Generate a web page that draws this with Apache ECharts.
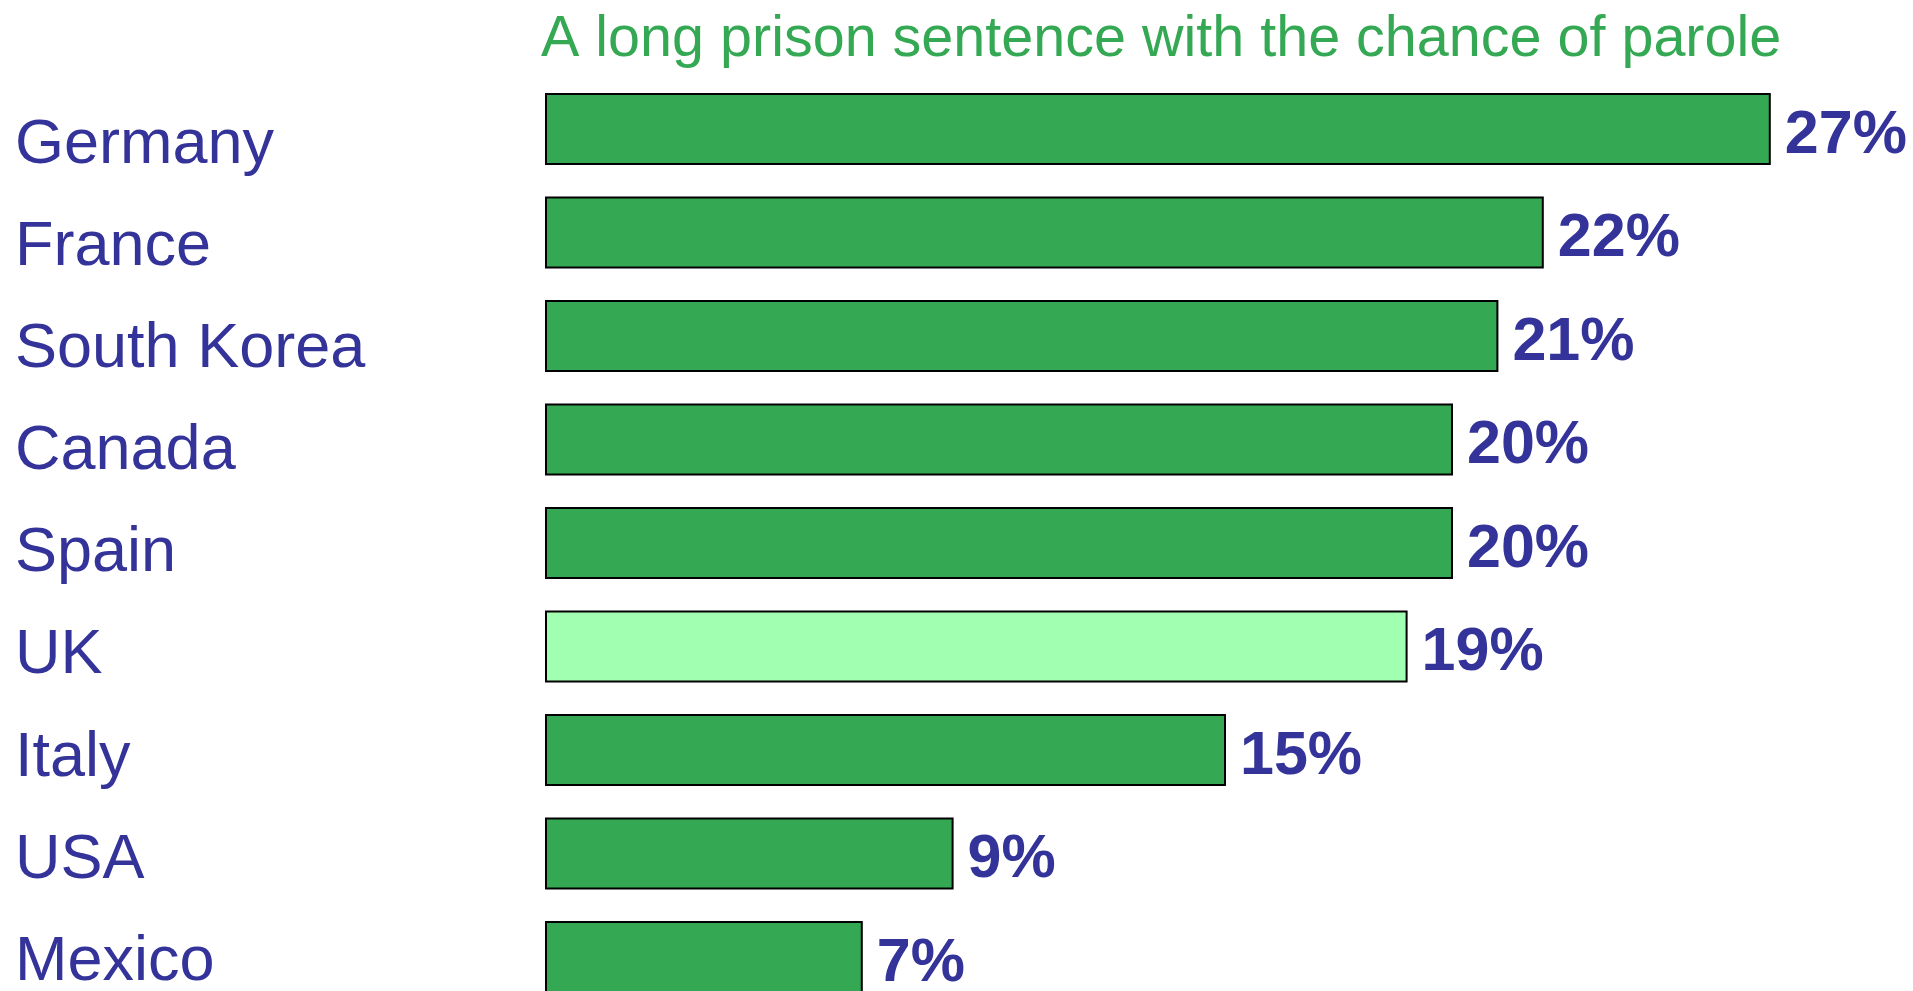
<!DOCTYPE html>
<html>
<head>
<meta charset="utf-8">
<script src="https://cdn.jsdelivr.net/npm/echarts@6/dist/echarts.min.js"></script>
<style>html,body{margin:0;padding:0;background:#fff;overflow:hidden;}#c{width:1913px;height:1040px;}</style>
</head>
<body>
<div id="c"></div>
<script>
const titleText = "A long prison sentence with the chance of parole";
const countries = ["Germany","France","South Korea","Canada","Spain","UK","Italy","USA","Mexico"];
const values = [27,22,21,20,20,19,15,9,7];
const highlighted = ["UK"];

const GREEN = "#34A853", LIGHT = "#A0FFB0", NAVY = "#333399";
const FONT = "'Liberation Sans', Arial, sans-serif";

const chart = echarts.init(document.getElementById('c'), null, {renderer:'canvas'});
chart.setOption({
  backgroundColor: '#fff',
  animation: false,
  title: {
    text: titleText, left: 536, top: 6,
    textStyle: {color: GREEN, fontSize: 57.5, fontWeight: 'normal', fontFamily: FONT}
  },
  grid: [
    {left: 545, right: 6, top: 77.25, height: 931.5},
    {left: 15, width: 500, top: 94.3, height: 919.3}
  ],
  xAxis: [
    {gridIndex: 0, type: 'value', min: 0, max: 30, show: false},
    {gridIndex: 1, type: 'value', min: 0, max: 1, show: false}
  ],
  yAxis: [
    {gridIndex: 0, type: 'category', data: countries, inverse: true, show: false},
    {gridIndex: 1, type: 'category', data: countries, inverse: true,
     axisLine: {show: false}, axisTick: {show: false}, splitLine: {show: false},
     axisLabel: {inside: true, margin: 0, align: 'left', verticalAlign: 'middle',
       color: NAVY, fontSize: 63, fontFamily: FONT}}
  ],
  series: [{
    type: 'bar', xAxisIndex: 0, yAxisIndex: 0,
    barWidth: 72,
    data: countries.map((c, i) => ({
      value: values[i],
      itemStyle: {color: highlighted.includes(c) ? LIGHT : GREEN}
    })),
    itemStyle: {borderColor: '#000', borderWidth: 2},
    label: {show: true, position: 'right', distance: 14, offset: [0, 7],
      formatter: '{c}%', color: NAVY, fontSize: 61, fontWeight: 'bold', fontFamily: FONT},
    silent: true
  }]
});
</script>
</body>
</html>
